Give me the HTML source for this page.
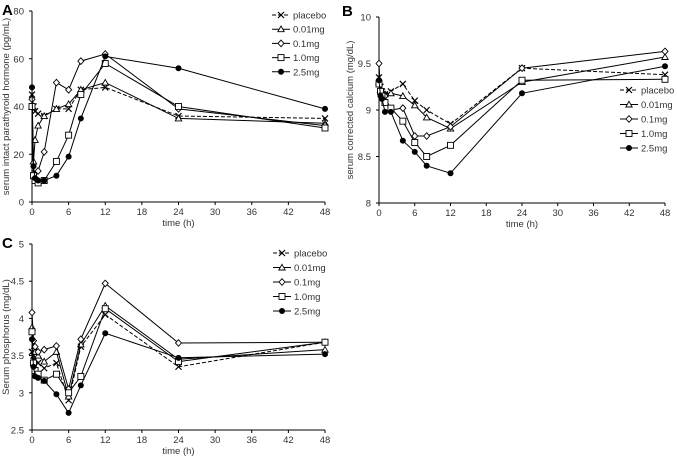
<!DOCTYPE html>
<html><head><meta charset="utf-8"><style>
body{margin:0;background:#fff;}
svg{display:block;font-family:"Liberation Sans",sans-serif;}
</style></head><body>
<svg id="fig" width="677" height="457" viewBox="0 0 677 457"></svg>
<script>
const times=[0,0.25,0.5,1,2,4,6,8,12,24,48];
const xTicks=[0,6,12,18,24,30,36,42,48];
const seriesNames=["placebo","0.01mg","0.1mg","1.0mg","2.5mg"];
const markers=["x","tri","dia","sq","dot"];
const aPlacebo=[45,40,38,37,36,39,39,47,48,36,35];
const a001=[40,17,26,32,36,39,41,47,50,35,33];
const a01=[43,12,10,13,21,50,47,59,62,39,32];
const a10=[40,11,9,8,9,17,28,45,58,40,31];
const a25=[48,15,10,9,9,11,19,35,61,56,39];
const aTicks=[0,20,40,60,80];
const bPlacebo=[9.35,9.25,9.2,9.17,9.2,9.28,9.1,9.0,8.85,9.45,9.38];
const b001=[9.3,9.22,9.2,9.17,9.18,9.15,9.05,8.92,8.8,9.3,9.57];
const b01=[9.5,9.2,9.18,9.15,9.0,9.02,8.72,8.72,8.82,9.45,9.63];
const b10=[9.28,9.2,9.15,9.08,9.02,8.88,8.65,8.5,8.62,9.32,9.33];
const b25=[9.32,9.15,9.12,8.98,8.98,8.67,8.55,8.4,8.32,9.18,9.47];
const bTicks=[8,8.5,9,9.5,10];
const cPlacebo=[3.55,3.5,3.45,3.4,3.33,3.4,2.9,3.62,4.05,3.35,3.68];
const c001=[3.88,3.6,3.55,3.5,3.42,3.55,2.95,3.65,4.17,3.45,3.58];
const c01=[4.08,3.7,3.62,3.55,3.58,3.63,3.05,3.72,4.47,3.67,3.68];
const c10=[3.82,3.4,3.3,3.25,3.17,3.25,3.0,3.22,4.13,3.42,3.68];
const c25=[3.72,3.35,3.22,3.2,3.16,2.98,2.73,3.1,3.8,3.47,3.52];
const cTicks=[2.5,3,3.5,4,4.5,5];

const NS="http://www.w3.org/2000/svg";
const svg=document.getElementById('fig');
function el(tag,attrs,parent,text){const e=document.createElementNS(NS,tag);for(const k in attrs)e.setAttribute(k,attrs[k]);if(text!==undefined)e.textContent=text;(parent||svg).appendChild(e);return e;}
function marker(g,type,x,y){
  if(type==="x"){el('path',{d:`M${x-3},${y-3}L${x+3},${y+3}M${x-3},${y+3}L${x+3},${y-3}`,stroke:'#000','stroke-width':1.2},g);}
  else if(type==="tri"){el('path',{d:`M${x},${y-3.2}L${x+3.2},${y+2.5}L${x-3.2},${y+2.5}Z`,fill:'#fff',stroke:'#000','stroke-width':0.9},g);}
  else if(type==="dia"){el('path',{d:`M${x},${y-3.3}L${x+3},${y}L${x},${y+3.3}L${x-3},${y}Z`,fill:'#fff',stroke:'#000','stroke-width':0.9},g);}
  else if(type==="sq"){el('rect',{x:x-3,y:y-3,width:6,height:6,fill:'#fff',stroke:'#000','stroke-width':0.9},g);}
  else {el('circle',{cx:x,cy:y,r:3,fill:'#000'},g);}
}
function panel(cfg){
  const g=el('g',{});
  
  
  const sx=t=>cfg.x0+(t/48)*(cfg.x1-cfg.x0);
  const sy=v=>cfg.y0-(v-cfg.ymin)/(cfg.ymax-cfg.ymin)*(cfg.y0-cfg.y1);
  const ax=el('path',{d:`M${cfg.x0},${cfg.y1}L${cfg.x0},${cfg.y0}L${cfg.x1},${cfg.y0}`,fill:'none',stroke:'#000','stroke-width':1},g);
  
  cfg.yticks.forEach(v=>{const y=sy(v);el('line',{x1:cfg.x0-3,y1:y,x2:cfg.x0,y2:y,stroke:'#000'},g);
    const t=el('text',{x:cfg.x0-8,y:y+3.5,'text-anchor':'end','font-size':9.5,fill:'#333'},g,String(v));
    });
  xTicks.forEach(v=>{const x=sx(v);el('line',{x1:x,y1:cfg.y0,x2:x,y2:cfg.y0+3,stroke:'#000'},g);
    const t=el('text',{x:x,y:cfg.y0+13,'text-anchor':'middle','font-size':9.5,fill:'#333'},g,String(v));
    });
  const xt=el('text',{x:(cfg.x0+cfg.x1)/2,y:cfg.y0+24,'text-anchor':'middle','font-size':9.5,fill:'#333'},g,'time (h)');
  
  const yt=el('text',{x:0,y:0,'text-anchor':'middle','font-size':9.5,fill:'#333',transform:`translate(${cfg.ytx},${(cfg.y0+cfg.y1)/2}) rotate(-90)`},g,cfg.ytitle);
  
  const lt=el('text',{x:cfg.lx,y:cfg.ly,'font-size':15,'font-weight':'bold'},g,cfg.letter);
  
  cfg.series.forEach((vals,i)=>{
    const sg=el('g',{},g);
    
    
    const d=vals.map((v,j)=>(j?'L':'M')+sx(times[j]).toFixed(1)+','+sy(v).toFixed(1)).join('');
    el('path',{d:d,fill:'none',stroke:'#000','stroke-width':1,'stroke-dasharray':i===0?'4,2':'none'},sg);
    vals.forEach((v,j)=>marker(sg,markers[i],sx(times[j]),sy(v)));
  });
  seriesNames.forEach((n,i)=>{
    const lg=el('g',{},g);
    
    
    const y=cfg.legY+i*cfg.legDy;
    el('line',{x1:cfg.legX,y1:y,x2:cfg.legX+18,y2:y,stroke:'#000','stroke-dasharray':i===0?'4,2':'none'},lg);
    marker(lg,markers[i],cfg.legX+9,y);
    el('text',{x:cfg.legX+21,y:y+3.5,'font-size':9.5,fill:'#333'},lg,cfg.legLabels[i]);
  });
}
panel({name:'panel-a-pth',x0:32,x1:325,y0:202,y1:11,ymin:0,ymax:80,yticks:aTicks,ytx:9,ytitle:'serum intact parathyroid hormone (pg/mL)',letter:'A',lx:2,ly:15,
  series:[aPlacebo,a001,a01,a10,a25],legX:272,legY:15,legDy:14.2,legLabels:['placebo','0.01mg','0.1mg','1.0mg','2.5mg']});
panel({name:'panel-b-calcium',x0:379,x1:665,y0:203,y1:17,ymin:8,ymax:10,yticks:bTicks,ytx:353,ytitle:'serum corrected calcium (mg/dL)',letter:'B',lx:342,ly:16,
  series:[bPlacebo,b001,b01,b10,b25],legX:620,legY:90,legDy:14.5,legLabels:['placebo','0.01mg','0.1mg','1.0mg','2.5mg']});
panel({name:'panel-c-phosphorus',x0:32,x1:325,y0:430,y1:244,ymin:2.5,ymax:5,yticks:cTicks,ytx:9,ytitle:'Serum phosphorus (mg/dL)',letter:'C',lx:2,ly:248,
  series:[cPlacebo,c001,c01,c10,c25],legX:273,legY:253,legDy:14.5,legLabels:['placebo','0.01mg','0.1mg','1.0mg','2.5mg']});
</script>
</body></html>
